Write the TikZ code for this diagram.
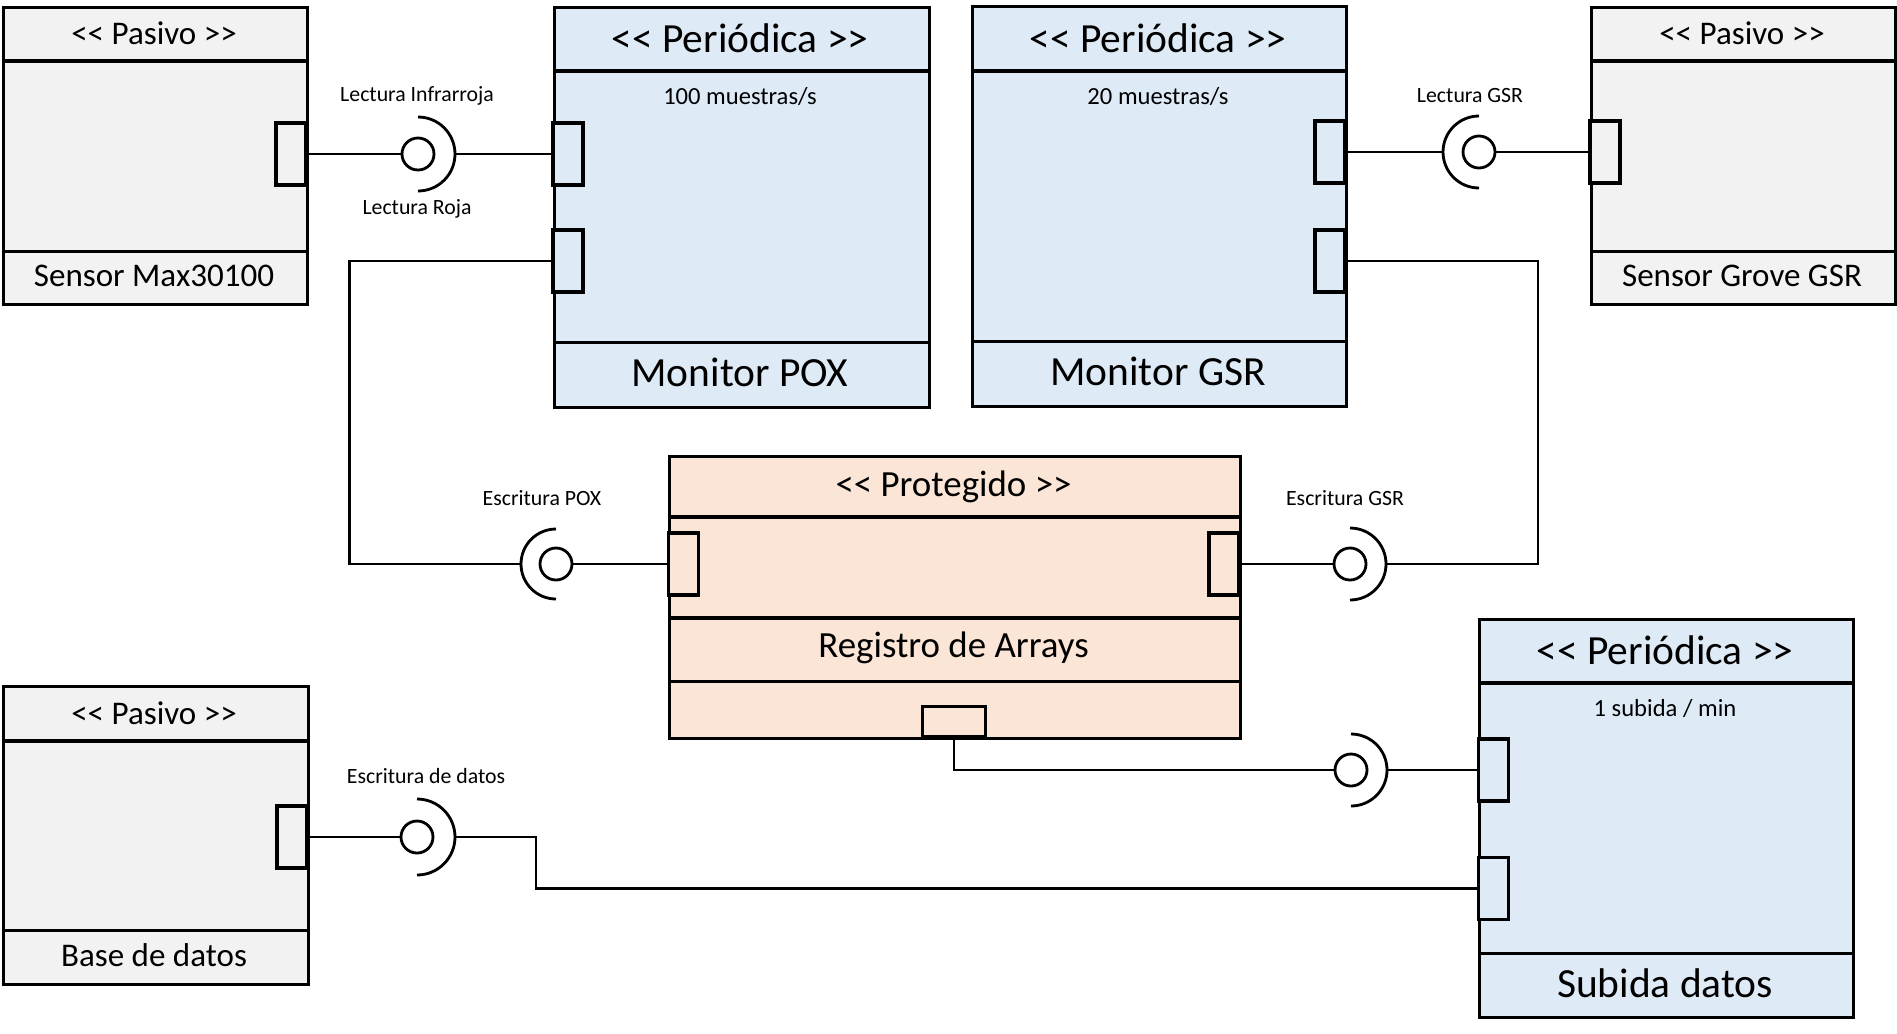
\documentclass[tikz,border=0pt]{standalone}
\usepackage{fontspec}
\newfontfamily\uifont{Carlito}
\definecolor{pasivo}{HTML}{F2F2F2}
\definecolor{periodica}{HTML}{DEEBF7}
\definecolor{protegido}{HTML}{FBE5D6}

\begin{document}
\begin{tikzpicture}[
    comp/.style={draw, line width=0.9pt, anchor=north west, inner sep=0pt},
    port/.style={draw, line width=0.9pt, minimum width=0.3cm, minimum height=0.62cm, inner sep=0pt},
    hport/.style={draw, line width=0.9pt, minimum width=0.63cm, minimum height=0.3cm, inner sep=0pt},
    ball/.style={draw, circle, line width=0.8pt, minimum size=0.32cm, inner sep=0pt},
    wire/.style={line width=0.8pt},
    sep/.style={line width=0.9pt},
    big/.style={font=\uifont\fontsize{11.8}{14}\selectfont},
    mid/.style={font=\uifont\fontsize{10.5}{12}\selectfont},
    pas/.style={font=\uifont\fontsize{9.4}{11}\selectfont},
    rate/.style={font=\uifont\fontsize{7}{8}\selectfont},
    lbl/.style={font=\uifont\fontsize{6.2}{7}\selectfont}
  ]
  \useasboundingbox (0,0) rectangle (18.97,-10.33);

  % Sensor Max30100
  \node[comp, fill=pasivo, minimum width=3.04cm, minimum height=2.97cm] (max) at (0.02,-0.06) {};
  \draw[sep] ([yshift=-0.55cm]max.north west) -- ([yshift=-0.55cm]max.north east);
  \draw[sep] ([yshift=0.55cm]max.south west) -- ([yshift=0.55cm]max.south east);
  \node[pas] (maxT) at (1.54,-0.33) {<< Pasivo >>};
  \node[pas] (maxN) at (1.54,-2.76) {Sensor Max30100};
  \node[port, fill=pasivo] (maxp) at (2.91,-1.54) {};

  % Monitor POX
  \node[comp, fill=periodica, minimum width=3.75cm, minimum height=4.0cm] (pox) at (5.53,-0.06) {};
  \draw[sep] ([yshift=-0.65cm]pox.north west) -- ([yshift=-0.65cm]pox.north east);
  \draw[sep] ([yshift=0.67cm]pox.south west) -- ([yshift=0.67cm]pox.south east);
  \node[big] (poxT) at (7.40,-0.38) {<< Periódica >>};
  \node[rate] (poxR) at (7.40,-0.96) {100 muestras/s};
  \node[big] (poxN) at (7.40,-3.72) {Monitor POX};
  \node[port, fill=periodica] (poxa) at (5.68,-1.54) {};
  \node[port, fill=periodica] (poxb) at (5.68,-2.61) {};

  % Monitor GSR
  \node[comp, fill=periodica, minimum width=3.74cm, minimum height=4.0cm] (gsr) at (9.71,-0.05) {};
  \draw[sep] ([yshift=-0.66cm]gsr.north west) -- ([yshift=-0.66cm]gsr.north east);
  \draw[sep] ([yshift=0.67cm]gsr.south west) -- ([yshift=0.67cm]gsr.south east);
  \node[big] (gsrT) at (11.58,-0.38) {<< Periódica >>};
  \node[rate] (gsrR) at (11.58,-0.96) {20 muestras/s};
  \node[big] (gsrN) at (11.58,-3.71) {Monitor GSR};
  \node[port, fill=periodica] (gsra) at (13.30,-1.52) {};
  \node[port, fill=periodica] (gsrb) at (13.30,-2.61) {};

  % Sensor Grove GSR
  \node[comp, fill=pasivo, minimum width=3.04cm, minimum height=2.97cm] (grove) at (15.90,-0.06) {};
  \draw[sep] ([yshift=-0.55cm]grove.north west) -- ([yshift=-0.55cm]grove.north east);
  \draw[sep] ([yshift=0.55cm]grove.south west) -- ([yshift=0.55cm]grove.south east);
  \node[pas] (groveT) at (17.42,-0.33) {<< Pasivo >>};
  \node[pas] (groveN) at (17.42,-2.76) {Sensor Grove GSR};
  \node[port, fill=pasivo] (grovep) at (16.05,-1.52) {};

  % Registro de Arrays
  \node[comp, fill=protegido, minimum width=5.71cm, minimum height=2.82cm] (reg) at (6.68,-4.55) {};
  \draw[sep] ([yshift=-0.62cm]reg.north west) -- ([yshift=-0.62cm]reg.north east);
  \draw[sep] ([yshift=-1.63cm]reg.north west) -- ([yshift=-1.63cm]reg.north east);
  \draw[sep] ([yshift=0.59cm]reg.south west) -- ([yshift=0.59cm]reg.south east);
  \node[mid] (regT) at (9.535,-4.87) {<< Protegido >>};
  \node[mid] (regN) at (9.535,-6.48) {Registro de Arrays};
  \node[port, fill=protegido] (regl) at (6.835,-5.64) {};
  \node[port, fill=protegido] (regr) at (12.24,-5.64) {};
  \node[hport, fill=protegido] (regb) at (9.54,-7.215) {};

  % Subida datos
  \node[comp, fill=periodica, minimum width=3.74cm, minimum height=3.98cm] (up) at (14.78,-6.18) {};
  \draw[sep] ([yshift=-0.65cm]up.north west) -- ([yshift=-0.65cm]up.north east);
  \draw[sep] ([yshift=0.66cm]up.south west) -- ([yshift=0.66cm]up.south east);
  \node[big] (upT) at (16.65,-6.50) {<< Periódica >>};
  \node[rate] (upR) at (16.65,-7.08) {1 subida / min};
  \node[big] (upN) at (16.65,-9.83) {Subida datos};
  \node[port, fill=periodica] (upa) at (14.935,-7.70) {};
  \node[port, fill=periodica] (upb) at (14.935,-8.885) {};

  % Base de datos
  \node[comp, fill=pasivo, minimum width=3.05cm, minimum height=2.98cm] (db) at (0.02,-6.85) {};
  \draw[sep] ([yshift=-0.56cm]db.north west) -- ([yshift=-0.56cm]db.north east);
  \draw[sep] ([yshift=0.56cm]db.south west) -- ([yshift=0.56cm]db.south east);
  \node[pas] (dbT) at (1.54,-7.13) {<< Pasivo >>};
  \node[pas] (dbN) at (1.54,-9.55) {Base de datos};
  \node[port, fill=pasivo] (dbp) at (2.92,-8.37) {};

  % Lectura Infrarroja / Lectura Roja
  \node[ball] (ir) at (4.18,-1.54) {};
  \coordinate (irS) at (4.55,-1.54);
  \draw[wire] (maxp.east) -- (ir);
  \draw[wire] (irS) arc[start angle=0, end angle=90, radius=0.37];
  \draw[wire] (irS) arc[start angle=0, end angle=-90, radius=0.37];
  \draw[wire] (irS) -- (poxa.west);
  \node[lbl] (irL) at (4.17,-0.96) {Lectura Infrarroja};
  \node[lbl] (rojaL) at (4.17,-2.09) {Lectura Roja};

  % Lectura GSR
  \node[ball] (rgsr) at (14.79,-1.52) {};
  \coordinate (rgsrS) at (14.43,-1.52);
  \draw[wire] (gsra.east) -- (rgsrS);
  \draw[wire] (rgsrS) arc[start angle=180, end angle=90, radius=0.36];
  \draw[wire] (rgsrS) arc[start angle=180, end angle=270, radius=0.36];
  \draw[wire] (rgsr) -- (grovep.west);
  \node[lbl] (rgsrL) at (14.70,-0.96) {Lectura GSR};

  % Escritura POX
  \node[ball] (epox) at (5.56,-5.64) {};
  \coordinate (epoxS) at (5.21,-5.64);
  \draw[wire] (poxb.west) -- ++(-2.02,0) |- (epoxS);
  \draw[wire] (epoxS) arc[start angle=180, end angle=90, radius=0.35];
  \draw[wire] (epoxS) arc[start angle=180, end angle=270, radius=0.35];
  \draw[wire] (epox) -- (regl.west);
  \node[lbl] (epoxL) at (5.42,-4.98) {Escritura POX};

  % Escritura GSR
  \node[ball] (egsr) at (13.50,-5.64) {};
  \coordinate (egsrS) at (13.86,-5.64);
  \draw[wire] (regr.east) -- (egsr);
  \draw[wire] (egsrS) arc[start angle=0, end angle=90, radius=0.36];
  \draw[wire] (egsrS) arc[start angle=0, end angle=-90, radius=0.36];
  \draw[wire] (egsrS) -- ++(1.52,0) |- (gsrb.east);
  \node[lbl] (egsrL) at (13.45,-4.98) {Escritura GSR};

  % Registro -> Subida
  \node[ball] (rd) at (13.51,-7.70) {};
  \coordinate (rdS) at (13.87,-7.70);
  \draw[wire] (regb.south) |- (rd);
  \draw[wire] (rdS) arc[start angle=0, end angle=90, radius=0.36];
  \draw[wire] (rdS) arc[start angle=0, end angle=-90, radius=0.36];
  \draw[wire] (rdS) -- (upa.west);

  % Escritura de datos
  \node[ball] (ed) at (4.17,-8.37) {};
  \coordinate (edS) at (4.55,-8.37);
  \draw[wire] (dbp.east) -- (ed);
  \draw[wire] (edS) arc[start angle=0, end angle=90, radius=0.38];
  \draw[wire] (edS) arc[start angle=0, end angle=-90, radius=0.38];
  \draw[wire] (edS) -- ++(0.81,0) |- (upb.west);
  \node[lbl] (edL) at (4.26,-7.76) {Escritura de datos};

\end{tikzpicture}
\end{document}
